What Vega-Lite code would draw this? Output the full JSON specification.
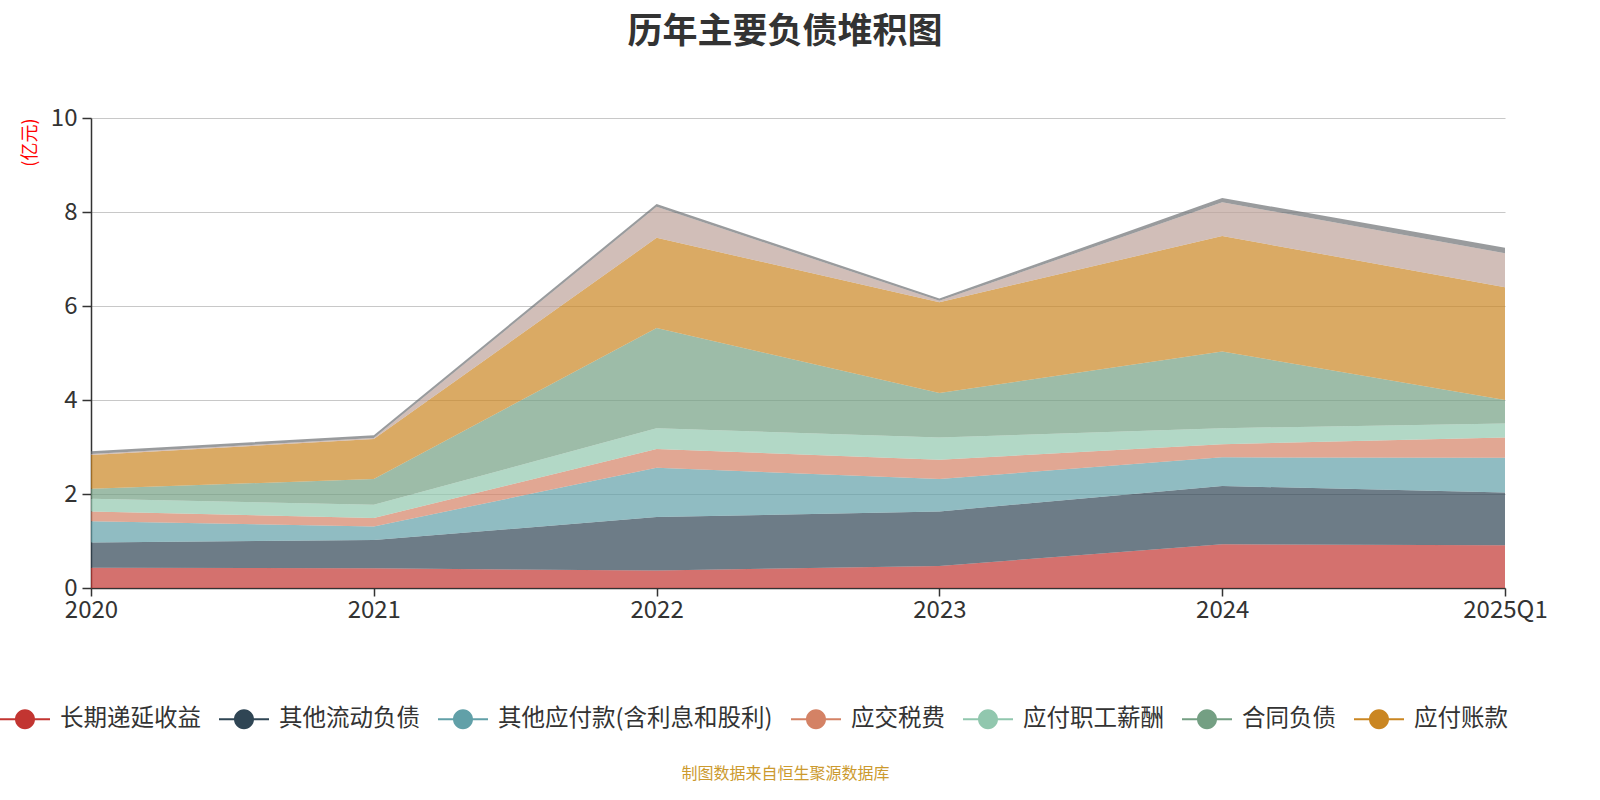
{
  "$schema": "https://vega.github.io/schema/vega-lite/v6.json",
  "autosize": {"type": "none"},
  "width": 1414,
  "height": 470,
  "padding": {"left": 91, "top": 118, "right": 95, "bottom": 212},
  "background": "white",
  "config": {
    "font": "Noto Sans CJK SC",
    "view": {"stroke": null}
  },
  "title": {
    "text": "历年主要负债堆积图",
    "fontSize": 35,
    "fontWeight": "bold",
    "color": "#333333",
    "anchor": "middle",
    "offset": 56,
    "dx": -13
  },
  "data": {
    "values": [
      {"year": "2020", "item": "长期递延收益", "k": 1, "value": 0.43},
      {"year": "2021", "item": "长期递延收益", "k": 1, "value": 0.42},
      {"year": "2022", "item": "长期递延收益", "k": 1, "value": 0.37},
      {"year": "2023", "item": "长期递延收益", "k": 1, "value": 0.47},
      {"year": "2024", "item": "长期递延收益", "k": 1, "value": 0.93},
      {"year": "2025Q1", "item": "长期递延收益", "k": 1, "value": 0.91},
      {"year": "2020", "item": "其他流动负债", "k": 2, "value": 0.54},
      {"year": "2021", "item": "其他流动负债", "k": 2, "value": 0.60},
      {"year": "2022", "item": "其他流动负债", "k": 2, "value": 1.14},
      {"year": "2023", "item": "其他流动负债", "k": 2, "value": 1.16},
      {"year": "2024", "item": "其他流动负债", "k": 2, "value": 1.24},
      {"year": "2025Q1", "item": "其他流动负债", "k": 2, "value": 1.12},
      {"year": "2020", "item": "其他应付款(含利息和股利)", "k": 3, "value": 0.45},
      {"year": "2021", "item": "其他应付款(含利息和股利)", "k": 3, "value": 0.29},
      {"year": "2022", "item": "其他应付款(含利息和股利)", "k": 3, "value": 1.05},
      {"year": "2023", "item": "其他应付款(含利息和股利)", "k": 3, "value": 0.69},
      {"year": "2024", "item": "其他应付款(含利息和股利)", "k": 3, "value": 0.61},
      {"year": "2025Q1", "item": "其他应付款(含利息和股利)", "k": 3, "value": 0.74},
      {"year": "2020", "item": "应交税费", "k": 4, "value": 0.21},
      {"year": "2021", "item": "应交税费", "k": 4, "value": 0.18},
      {"year": "2022", "item": "应交税费", "k": 4, "value": 0.40},
      {"year": "2023", "item": "应交税费", "k": 4, "value": 0.41},
      {"year": "2024", "item": "应交税费", "k": 4, "value": 0.28},
      {"year": "2025Q1", "item": "应交税费", "k": 4, "value": 0.43},
      {"year": "2020", "item": "应付职工薪酬", "k": 5, "value": 0.27},
      {"year": "2021", "item": "应付职工薪酬", "k": 5, "value": 0.28},
      {"year": "2022", "item": "应付职工薪酬", "k": 5, "value": 0.44},
      {"year": "2023", "item": "应付职工薪酬", "k": 5, "value": 0.47},
      {"year": "2024", "item": "应付职工薪酬", "k": 5, "value": 0.34},
      {"year": "2025Q1", "item": "应付职工薪酬", "k": 5, "value": 0.30},
      {"year": "2020", "item": "合同负债", "k": 6, "value": 0.21},
      {"year": "2021", "item": "合同负债", "k": 6, "value": 0.55},
      {"year": "2022", "item": "合同负债", "k": 6, "value": 2.13},
      {"year": "2023", "item": "合同负债", "k": 6, "value": 0.95},
      {"year": "2024", "item": "合同负债", "k": 6, "value": 1.63},
      {"year": "2025Q1", "item": "合同负债", "k": 6, "value": 0.50},
      {"year": "2020", "item": "应付账款", "k": 7, "value": 0.72},
      {"year": "2021", "item": "应付账款", "k": 7, "value": 0.85},
      {"year": "2022", "item": "应付账款", "k": 7, "value": 1.92},
      {"year": "2023", "item": "应付账款", "k": 7, "value": 1.93},
      {"year": "2024", "item": "应付账款", "k": 7, "value": 2.46},
      {"year": "2025Q1", "item": "应付账款", "k": 7, "value": 2.40},
      {"year": "2020", "item": "应付票据", "k": 8, "value": 0.02},
      {"year": "2021", "item": "应付票据", "k": 8, "value": 0.02},
      {"year": "2022", "item": "应付票据", "k": 8, "value": 0.66},
      {"year": "2023", "item": "应付票据", "k": 8, "value": 0.03},
      {"year": "2024", "item": "应付票据", "k": 8, "value": 0.72},
      {"year": "2025Q1", "item": "应付票据", "k": 8, "value": 0.72},
      {"year": "2020", "item": "租赁负债", "k": 9, "value": 0.06},
      {"year": "2021", "item": "租赁负债", "k": 9, "value": 0.06},
      {"year": "2022", "item": "租赁负债", "k": 9, "value": 0.06},
      {"year": "2023", "item": "租赁负债", "k": 9, "value": 0.05},
      {"year": "2024", "item": "租赁负债", "k": 9, "value": 0.09},
      {"year": "2025Q1", "item": "租赁负债", "k": 9, "value": 0.12}
    ]
  },
  "mark": {"type": "area", "opacity": 0.7, "interpolate": "linear"},
  "encoding": {
    "x": {
      "field": "year",
      "type": "ordinal",
      "scale": {"type": "point", "padding": 0},
      "axis": {
        "title": "制图数据来自恒生聚源数据库",
        "titleColor": "#cc9a2e",
        "titleFontSize": 16,
        "titleFontWeight": "normal",
        "titleX": 694,
        "titleY": 185,
        "titleBaseline": "middle",
        "titleAlign": "center",
        "labelAngle": 0,
        "labelFontSize": 24,
        "labelColor": "#333333",
        "labelPadding": 2,
        "labelOverlap": false,
        "labelFlush": false,
        "domainColor": "#333333",
        "domainWidth": 1.5,
        "tickColor": "#333333",
        "tickSize": 8,
        "tickWidth": 1.5,
        "grid": false
      }
    },
    "y": {
      "field": "value",
      "type": "quantitative",
      "stack": "zero",
      "scale": {"domain": [0, 10], "nice": false},
      "axis": {
        "title": "(亿元)",
        "titleColor": "#ff0000",
        "titleFontSize": 18,
        "titleFontWeight": "normal",
        "titleAngle": -90,
        "titleX": -61,
        "titleY": 0,
        "titleAlign": "right",
        "titleBaseline": "middle",
        "values": [0, 2, 4, 6, 8, 10],
        "labelFontSize": 24,
        "labelColor": "#333333",
        "labelPadding": 5,
        "domainColor": "#333333",
        "domainWidth": 1.5,
        "tickColor": "#333333",
        "tickSize": 9,
        "tickWidth": 1.5,
        "grid": true,
        "gridColor": "#c8c8c8",
        "gridWidth": 1.2
      }
    },
    "color": {
      "field": "item",
      "type": "nominal",
      "scale": {
        "domain": ["长期递延收益", "其他流动负债", "其他应付款(含利息和股利)", "应交税费", "应付职工薪酬", "合同负债", "应付账款", "应付票据", "租赁负债"],
        "range": ["#c23531", "#2f4554", "#61a0a8", "#d48265", "#91c7ae", "#749f83", "#ca8622", "#bda29a", "#6e7074"]
      },
      "legend": {
        "values": ["长期递延收益", "其他流动负债", "其他应付款(含利息和股利)", "应交税费", "应付职工薪酬", "合同负债", "应付账款"],
        "orient": "none",
        "legendX": -91,
        "legendY": 576,
        "direction": "horizontal",
        "title": null,
        "symbolType": "M-1,-0.04L1,-0.04L1,0.04L-1,0.04Z M0.4,0A0.4,0.4 0 1,1 -0.4,0A0.4,0.4 0 1,1 0.4,0Z",
        "symbolSize": 2500,
        "symbolOpacity": 1,
        "symbolStrokeWidth": 0,
        "labelFontSize": 23.5,
        "labelLimit": 500,
        "labelColor": "#333333",
        "labelOffset": 10,
        "columnPadding": 18
      }
    },
    "order": {"field": "k", "type": "quantitative", "sort": "ascending"}
  }
}
